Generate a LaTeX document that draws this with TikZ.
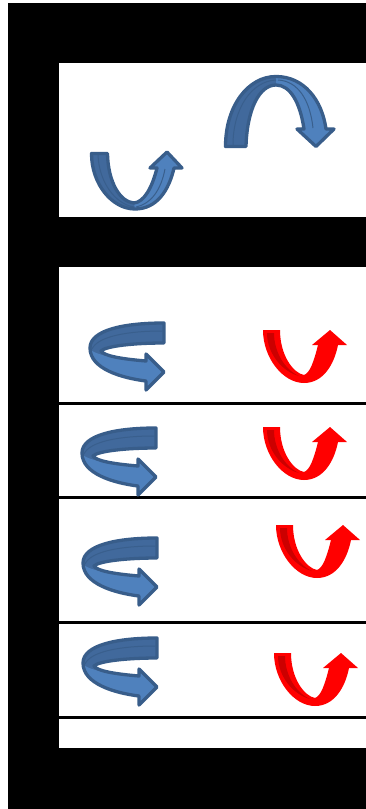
\documentclass[tikz,border=0pt]{standalone}
\definecolor{bline}{HTML}{385D8A}
\definecolor{bdark}{HTML}{41699C}
\definecolor{blight}{HTML}{4F81BD}
\definecolor{rdark}{HTML}{CC0000}
\tikzset{
  blueoutline/.style={draw=bline,line width=3.3pt,line join=round},
  crease/.style={draw=bline!85!bdark,line width=1pt},
  sepline/.style={draw=black,line width=3pt},
  uarrow/.pic={
    \fill[bdark] (1.5,1.5) .. controls (1.5,32) and (22,57) .. (45,57) .. controls (67,57) and (79,38) .. (84,16) -- (92,16) -- (77,0) -- (60,16) -- (67,16) .. controls (62,36) and (54,50) .. (44,51) .. controls (30,50) and (18,30) .. (17.5,1.5) -- cycle;
    \fill[blight] (45,57) .. controls (67,57) and (79,38) .. (84,16) -- (92,16) -- (77,0) -- (60,16) -- (67,16) .. controls (62,36) and (54,50) .. (44,51) -- cycle;
    \draw[crease] (8,3) .. controls (9,30) and (25,52) .. (44,55);
    \draw[crease] (46,55) .. controls (61,52) and (71,38) .. (75,17);
    \draw[blueoutline] (1.5,1.5) .. controls (1.5,32) and (22,57) .. (45,57) .. controls (67,57) and (79,38) .. (84,16) -- (92,16) -- (77,0) -- (60,16) -- (67,16) .. controls (62,36) and (54,50) .. (44,51) .. controls (30,50) and (18,30) .. (17.5,1.5) -- cycle;
  },
  archarrow/.pic={
    \fill[bdark] (1.5,-1.5) .. controls (1.5,-42) and (24,-71.5) .. (52,-71.5) .. controls (80,-71.5) and (98,-48) .. (102,-19) -- (110,-19) -- (92,-1.5) -- (73,-19) -- (80,-19) .. controls (76,-46) and (66,-63) .. (52,-63) .. controls (35,-63) and (23,-38) .. (22,-1.5) -- cycle;
    \fill[blight] (52,-71.5) .. controls (80,-71.5) and (98,-48) .. (102,-19) -- (110,-19) -- (92,-1.5) -- (73,-19) -- (80,-19) .. controls (76,-46) and (66,-63) .. (52,-63) -- cycle;
    \draw[crease] (9,-3) .. controls (9,-40) and (28,-67) .. (52,-68);
    \draw[crease] (54,-68) .. controls (74,-67) and (86,-48) .. (89,-20);
    \draw[blueoutline] (1.5,-1.5) .. controls (1.5,-42) and (24,-71.5) .. (52,-71.5) .. controls (80,-71.5) and (98,-48) .. (102,-19) -- (110,-19) -- (92,-1.5) -- (73,-19) -- (80,-19) .. controls (76,-46) and (66,-63) .. (52,-63) .. controls (35,-63) and (23,-38) .. (22,-1.5) -- cycle;
  },
  carrow/.pic={
    \fill[bdark] (0,1) .. controls (-40,1) and (-74,8) .. (-74,26) .. controls (-74,47) and (-42,56) .. (-18,59) -- (-18,68) -- (0,50) -- (-18,32) -- (-18,39) .. controls (-42,37) and (-60,34) .. (-63,29) .. controls (-58,24) and (-30,21) .. (0,21) -- cycle;
    \fill[blight] (-74,28) .. controls (-73,47) and (-42,56) .. (-18,59) -- (-18,68) -- (0,50) -- (-18,32) -- (-18,39) .. controls (-42,37) and (-62,35) .. (-74,28) -- cycle;
    \draw[crease] (-2,9) .. controls (-35,9) and (-66,14) .. (-72,27);
    \draw[blueoutline] (0,1) .. controls (-40,1) and (-74,8) .. (-74,26) .. controls (-74,47) and (-42,56) .. (-18,59) -- (-18,68) -- (0,50) -- (-18,32) -- (-18,39) .. controls (-42,37) and (-60,34) .. (-63,29) .. controls (-58,24) and (-30,21) .. (0,21) -- cycle;
  },
  redarrow/.pic={
    \fill[red] (0,0) .. controls (0,28) and (20,53) .. (41,53) .. controls (60,53) and (71,35) .. (75,15) -- (84,15) -- (67,0) -- (49,15) -- (55,15) .. controls (51,31) and (47,43) .. (41,45) .. controls (30,43) and (17,25) .. (17,0) -- cycle;
    \fill[rdark] (4,3) -- (11,3) .. controls (11,22) and (22,40) .. (36,46) .. controls (20,42) and (4,24) .. (4,3) -- cycle;
  }
}
\begin{document}
\begin{tikzpicture}[x=1pt,y=-1pt]
  \useasboundingbox (0,0) rectangle (366,809);
  \fill[white] (0,0) rectangle (366,809);
  \fill[black] (8,3) rectangle (366,809);
  % panel 1
  \fill[white] (59,63) rectangle (366,217);
  \pic at (90,152) {uarrow};
  \pic at (224,148) {archarrow};
  % panel 2
  \fill[white] (59,267) rectangle (366,748);
  \draw[sepline] (59,403.5) -- (366,403.5);
  \draw[sepline] (59,497.5) -- (366,497.5);
  \draw[sepline] (59,622.8) -- (366,622.8);
  \draw[sepline] (59,717.5) -- (366,717.5);
  \pic at (164,322) {carrow};
  \pic at (156,427) {carrow};
  \pic at (157,537) {carrow};
  \pic at (157,637) {carrow};
  \begin{scope}[shift={(263,330)}]
    \pic {redarrow};
  \end{scope}
  \begin{scope}[shift={(263,427)},xscale=0.93,yscale=0.98]
    \pic {redarrow};
  \end{scope}
  \begin{scope}[shift={(276,525)},xscale=0.88,yscale=1.2]
    \pic {redarrow};
  \end{scope}
  \begin{scope}[shift={(274,653)},xscale=0.92,yscale=1.0]
    \pic {redarrow};
  \end{scope}
\end{tikzpicture}
\end{document}
